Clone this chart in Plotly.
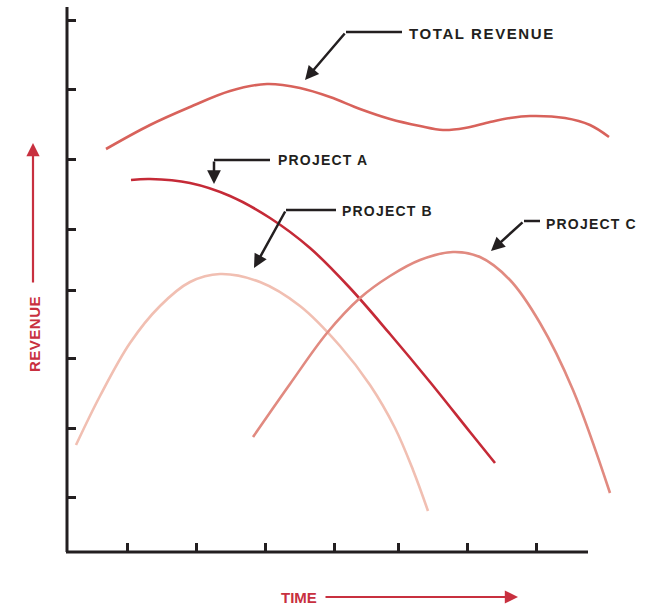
import plotly.graph_objects as go

# ---- data (time units, revenue units) ----
total_t = [39, 83, 123, 163, 200, 233, 263, 293, 323, 353, 376, 398, 423, 443, 463, 498, 523, 542]
total_r = [403, 427, 445, 461, 468, 464, 455, 443, 433, 426, 422, 424, 430, 434, 436, 434, 427, 415]

a_t = [64, 83, 123, 163, 203, 243, 283, 323, 363, 403, 428]
a_r = [372, 373, 369, 356, 334, 304, 264, 218, 170, 120, 89]

b_t = [9, 33, 63, 93, 123, 153, 193, 233, 273, 303, 328, 346, 361]
b_r = [107, 156, 209, 246, 270, 278, 270, 246, 206, 167, 124, 82, 41]

c_t = [186, 223, 260, 293, 323, 353, 386, 413, 443, 473, 506, 543]
c_r = [115, 168, 219, 254, 276, 292, 300, 295, 272, 229, 162, 59]

x_ticks = [60, 129, 198, 267, 331, 400, 469]
y_ticks = [55, 124, 194, 262, 323, 393, 463, 532]

series_names = ["TOTAL REVENUE", "PROJECT A", "PROJECT B", "PROJECT C"]

# ---- layout geometry (pixels) ----
W, H = 664, 615
L, R, T, B = 67, 44, 7, 63
PW, PH = W - L - R, H - T - B
XMAX, YMAX = PW, PH


def px(x):  # pixel x -> paper
    return (x - L) / PW


def py(y):  # pixel y -> paper
    return (H - B - y) / PH


fig = go.Figure()
colors = ["#d8625b", "#c52a37", "#f1bfb2", "#e18a80"]
for (t, r), col, name in zip([(total_t, total_r), (a_t, a_r), (b_t, b_r), (c_t, c_r)], colors, series_names):
    fig.add_trace(go.Scatter(x=t, y=r, mode="lines", name=name,
                             line=dict(color=col, width=2.6, shape="spline", smoothing=1.0),
                             showlegend=False, hoverinfo="skip"))

black = "#231f20"
red = "#c8303f"
shapes = []
# axis lines
shapes.append(dict(type="line", xref="paper", yref="paper", x0=px(67), x1=px(67), y0=py(552), y1=py(7),
                   line=dict(color=black, width=3)))
shapes.append(dict(type="line", xref="paper", yref="paper", x0=px(66), x1=px(588), y0=py(552), y1=py(552),
                   line=dict(color=black, width=3)))
# leader horizontal segments
for (x0, x1, y) in [(346, 402, 32), (214, 270, 160), (286, 336, 210), (524, 540, 221)]:
    shapes.append(dict(type="line", xref="paper", yref="paper", x0=px(x0), x1=px(x1), y0=py(y), y1=py(y),
                       line=dict(color=black, width=2.5)))

annotations = []
# leader arrows (head at target, tail at bend)
for (hx, hy, tx, ty) in [(305, 80, 346, 32), (214, 184, 214, 160), (254, 268, 286, 210), (491, 251, 524, 221)]:
    annotations.append(dict(xref="paper", yref="paper", x=px(hx), y=py(hy), ax=tx - hx, ay=ty - hy,
                            text="", showarrow=True, arrowhead=2, arrowsize=1.1, arrowwidth=2.5,
                            arrowcolor=black))
# labels
for (name, x, y, sz, sp) in [(series_names[0], 407, 34, 15, 1.6), (series_names[1], 276, 160, 14, 1.2),
                             (series_names[2], 340, 211, 14, 1.2), (series_names[3], 544, 224, 14, 1.2)]:
    annotations.append(dict(xref="paper", yref="paper", x=px(x), y=py(y), xanchor="left", yanchor="middle",
                            text='<span style="letter-spacing:%spx"><b>%s</b></span>' % (sp, name),
                            showarrow=False,
                            font=dict(family="Liberation Sans, Arial", size=sz, color=black)))
# axis titles
annotations.append(dict(xref="paper", yref="paper", x=px(34), y=py(334),
                        text='<span style="letter-spacing:0.5px"><b>REVENUE</b></span>', textangle=-90,
                        showarrow=False, xanchor="center", yanchor="middle",
                        font=dict(family="Liberation Sans, Arial", size=15, color=red)))
annotations.append(dict(xref="paper", yref="paper", x=px(299), y=py(597), text="<b>TIME</b>",
                        showarrow=False, xanchor="center", yanchor="middle",
                        font=dict(family="Liberation Sans, Arial", size=15, color=red)))
# axis title arrows
annotations.append(dict(xref="paper", yref="paper", x=px(33), y=py(143), ax=0, ay=284 - 143, text="",
                        showarrow=True, arrowhead=2, arrowsize=1.2, arrowwidth=2.2, arrowcolor=red))
annotations.append(dict(xref="paper", yref="paper", x=px(518), y=py(597), ax=324 - 518, ay=0, text="",
                        showarrow=True, arrowhead=2, arrowsize=1.2, arrowwidth=2.2, arrowcolor=red))

fig.update_layout(
    width=W, height=H, margin=dict(l=L, r=R, t=T, b=B),
    paper_bgcolor="white", plot_bgcolor="white",
    xaxis=dict(range=[0, XMAX], showgrid=False, zeroline=False, showline=False,
               tickmode="array", tickvals=x_ticks, ticktext=[""] * len(x_ticks),
               ticks="inside", ticklen=9, tickwidth=2.5, tickcolor=black, fixedrange=True),
    yaxis=dict(range=[0, YMAX], showgrid=False, zeroline=False, showline=False,
               tickmode="array", tickvals=y_ticks, ticktext=[""] * len(y_ticks),
               ticks="inside", ticklen=9, tickwidth=2.5, tickcolor=black, fixedrange=True),
    shapes=shapes, annotations=annotations, showlegend=False,
)

fig.write_html("out.html")
